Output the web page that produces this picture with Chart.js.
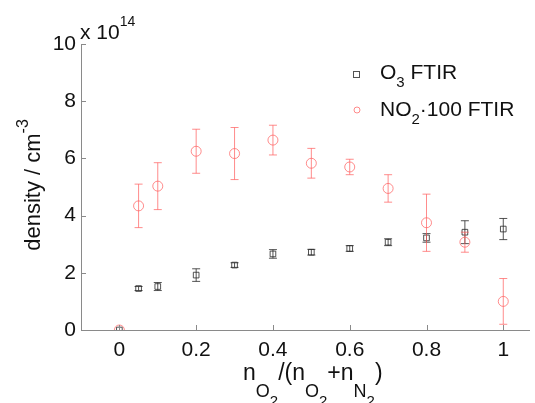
<!DOCTYPE html>
<html>
<head>
<meta charset="utf-8">
<script src="https://cdn.jsdelivr.net/npm/chart.js@4.4.1/dist/chart.umd.min.js"></script>
<style>
  html, body { margin: 0; padding: 0; background: #fff; overflow: hidden; }
  canvas { display: block; }
</style>
</head>
<body>
<canvas id="densityChart" width="535" height="403"></canvas>
<script>
// O2 fraction n_O2/(n_O2+n_N2)
const fraction = [0, 0.05, 0.1, 0.2, 0.3, 0.4, 0.5, 0.6, 0.7, 0.8, 0.9, 1.0];
// densities in units of 1e14 cm^-3
const o3Density = [0, 1.45, 1.52, 1.92, 2.27, 2.66, 2.72, 2.85, 3.07, 3.22, 3.42, 3.53];
const o3Error   = [0, 0.07, 0.14, 0.22, 0.08, 0.15, 0.10, 0.10, 0.12, 0.15, 0.40, 0.37];
const no2Density = [0, 4.34, 5.03, 6.25, 6.17, 6.64, 5.83, 5.70, 4.95, 3.75, 3.07, 1.00];
const no2Error   = [0, 0.76, 0.82, 0.77, 0.91, 0.52, 0.52, 0.27, 0.48, 1.00, 0.35, 0.80];
const xTicks = [0, 0.2, 0.4, 0.6, 0.8, 1];
const yTicks = [0, 2, 4, 6, 8, 10];

const FONT = '"Liberation Sans", Arial, sans-serif';
const RED = 'rgba(255, 95, 95, 0.72)';
const DARK = 'rgba(40, 40, 40, 0.8)';
const AXIS = '#8a8a8a';

// draw a list of text pieces [text, size, dy] starting at x
function drawPieces(ctx, pieces, x, y) {
    pieces.forEach(p => {
        ctx.font = p[1] + 'px ' + FONT;
        ctx.fillText(p[0], x, y + p[2]);
        x += ctx.measureText(p[0]).width;
    });
    return x;
}
function piecesWidth(ctx, pieces) {
    let w = 0;
    pieces.forEach(p => {
        ctx.font = p[1] + 'px ' + FONT;
        w += ctx.measureText(p[0]).width;
    });
    return w;
}

function toPoints(xs, ys) {
    return xs.map((x, i) => ({ x: x, y: ys[i] }));
}

// error bars, drawn just before each dataset's markers
const errorBarPlugin = {
    id: 'errorBars',
    beforeDatasetDraw(chart, args) {
        const ds = chart.data.datasets[args.index];
        if (!ds.errors) return;
        const ctx = chart.ctx;
        const xs = chart.scales.x, ys = chart.scales.y;
        ctx.save();
        ctx.strokeStyle = ds.borderColor;
        ctx.lineWidth = 1;
        ds.data.forEach((p, i) => {
            const e = ds.errors[i];
            if (!e) return;
            const px = xs.getPixelForValue(p.x);
            const top = ys.getPixelForValue(p.y + e);
            const bot = ys.getPixelForValue(p.y - e);
            ctx.beginPath();
            ctx.moveTo(px, top); ctx.lineTo(px, bot);
            ctx.moveTo(px - 4, top); ctx.lineTo(px + 4, top);
            ctx.moveTo(px - 4, bot); ctx.lineTo(px + 4, bot);
            ctx.stroke();
        });
        ctx.restore();
    }
};

// inside ticks, axis titles, exponent and legend
const decorPlugin = {
    id: 'decor',
    afterDraw(chart) {
        const ctx = chart.ctx;
        const xs = chart.scales.x, ys = chart.scales.y;
        const area = chart.chartArea;
        ctx.save();
        ctx.strokeStyle = AXIS;
        ctx.lineWidth = 1;
        ctx.beginPath();
        xTicks.forEach(v => {
            const px = Math.round(xs.getPixelForValue(v)) + 0.5;
            ctx.moveTo(px, area.bottom); ctx.lineTo(px, area.bottom - 5);
        });
        yTicks.forEach(v => {
            const py = Math.round(ys.getPixelForValue(v)) + 0.5;
            ctx.moveTo(area.left, py); ctx.lineTo(area.left + 5, py);
        });
        ctx.stroke();

        ctx.fillStyle = '#111';
        ctx.textBaseline = 'alphabetic';
        ctx.textAlign = 'left';

        // exponent
        drawPieces(ctx, [['x 10', 21, 0], ['14', 14, -13]], area.left - 1, 39);

        // x title
        const xt = [['n', 23, 0], ['O', 18, 17], ['2', 15, 26], ['/(n', 23, 0],
                    ['O', 18, 17], ['2', 15, 26], ['+n', 23, 0], ['N', 18, 17], ['2', 15, 26], [')', 23, 0]];
        drawPieces(ctx, xt, 243, 380);

        // y title, rotated
        const yt = [['density / cm', 22, 0], ['-3', 16, -12]];
        const yw = piecesWidth(ctx, yt);
        ctx.save();
        ctx.translate(40, 185);
        ctx.rotate(-Math.PI / 2);
        drawPieces(ctx, yt, -yw / 2, 0);
        ctx.restore();

        // legend
        ctx.strokeStyle = DARK;
        ctx.strokeRect(353.5, 71.5, 6, 6);
        ctx.strokeStyle = RED;
        ctx.beginPath();
        ctx.arc(357, 110, 3, 0, Math.PI * 2);
        ctx.stroke();
        ctx.fillStyle = '#111';
        drawPieces(ctx, [['O', 21, 0], ['3', 15, 8], [' FTIR', 21, 0]], 380, 79);
        drawPieces(ctx, [['NO', 21, 0], ['2', 15, 8], ['\u00b7100 FTIR', 21, 0]], 380, 116);
        ctx.restore();
    }
};

new Chart(document.getElementById('densityChart').getContext('2d'), {
    type: 'scatter',
    data: {
        datasets: [{
            label: 'O3 FTIR',
            data: toPoints(fraction, o3Density),
            errors: o3Error,
            pointStyle: 'rect',
            pointRadius: 4,
            borderColor: DARK,
            backgroundColor: 'rgba(0,0,0,0)',
            borderWidth: 1,
            order: 2
        }, {
            label: 'NO2·100 FTIR',
            data: toPoints(fraction, no2Density),
            errors: no2Error,
            pointStyle: 'circle',
            pointRadius: 5,
            borderColor: RED,
            backgroundColor: 'rgba(0,0,0,0)',
            borderWidth: 1,
            order: 1
        }]
    },
    options: {
        responsive: false,
        animation: false,
        layout: { padding: { top: 44, right: 0, left: 0, bottom: 0 } },
        plugins: {
            legend: { display: false },
            tooltip: { enabled: false }
        },
        scales: {
            x: {
                type: 'linear',
                min: -0.1,
                max: 1.067,
                afterBuildTicks: s => { s.ticks = xTicks.map(v => ({ value: v })); },
                afterFit: s => { s.height = 73; },
                grid: { display: false, drawTicks: false },
                border: { display: true, color: AXIS, width: 1 },
                ticks: {
                    padding: 8,
                    color: '#111',
                    font: { family: FONT, size: 21 },
                    callback: v => String(v)
                }
            },
            y: {
                type: 'linear',
                min: 0,
                max: 10,
                afterBuildTicks: s => { s.ticks = yTicks.map(v => ({ value: v })); },
                afterFit: s => { s.width = 81; },
                grid: { display: false, drawTicks: false },
                border: { display: true, color: AXIS, width: 1 },
                ticks: {
                    padding: 5,
                    color: '#111',
                    font: { family: FONT, size: 21 },
                    callback: v => String(v)
                }
            }
        }
    },
    plugins: [errorBarPlugin, decorPlugin]
});
</script>
</body>
</html>
